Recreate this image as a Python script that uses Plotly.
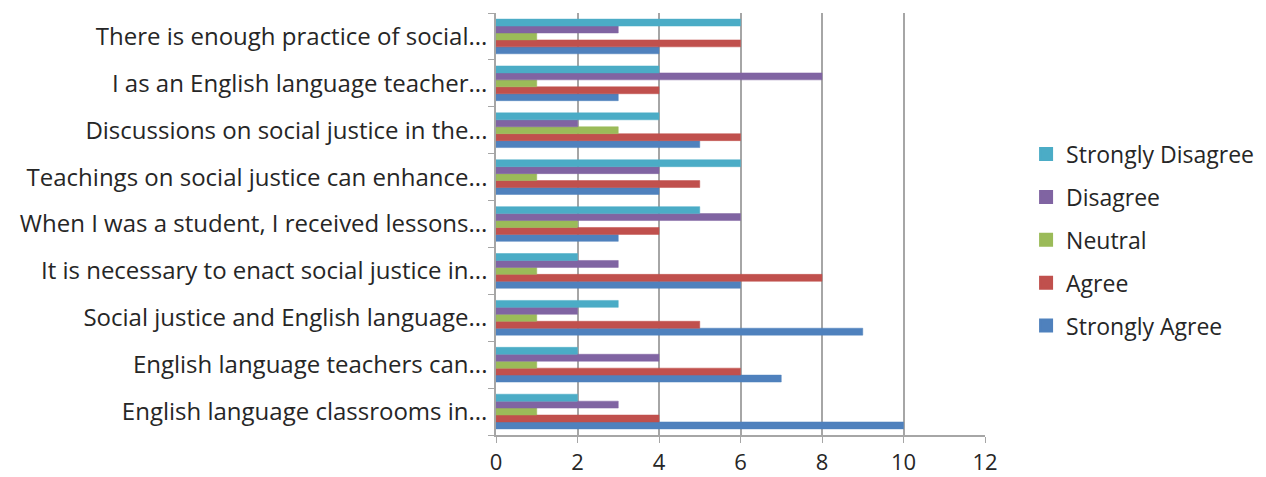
import plotly.graph_objects as go

# Survey statements, listed bottom to top as they appear on the axis
statements = [
    "English language classrooms in...",
    "English language teachers can...",
    "Social justice and English language...",
    "It is necessary to enact social justice in...",
    "When I was a student, I received lessons...",
    "Teachings on social justice can enhance...",
    "Discussions on social justice in the...",
    "I as an English language teacher...",
    "There is enough practice of social...",
]

strongly_agree    = [10, 7, 9, 6, 3, 4, 5, 3, 4]
agree             = [4, 6, 5, 8, 4, 5, 6, 4, 6]
neutral           = [1, 1, 1, 1, 2, 1, 3, 1, 1]
disagree          = [3, 4, 2, 3, 6, 4, 2, 8, 3]
strongly_disagree = [2, 2, 3, 2, 5, 6, 4, 4, 6]

# name, values, colour, legend position (1 = top)
series = [
    ("Strongly Agree", strongly_agree, "#4F81BD", 5),
    ("Agree", agree, "#C0504D", 4),
    ("Neutral", neutral, "#9BBB59", 3),
    ("Disagree", disagree, "#8064A2", 2),
    ("Strongly Disagree", strongly_disagree, "#4BACC6", 1),
]

font_family = "Open Sans, sans-serif"

fig = go.Figure()
for name, values, color, rank in series:
    fig.add_trace(go.Bar(
        y=statements, x=values, name=name, orientation="h",
        legendgroup=name, legendrank=rank,
        marker=dict(color=color, line=dict(color=color, width=0.5)),
    ))

fig.update_layout(
    width=1266, height=477,
    barmode="group", bargap=0.26, bargroupgap=0,
    plot_bgcolor="white", paper_bgcolor="white",
    margin=dict(l=496, r=281, t=13, b=42, autoexpand=False),
    font=dict(family=font_family, size=24, color="#262626"),
    legend=dict(
        traceorder="grouped", x=1.084, y=0.462, xanchor="left", yanchor="middle",
        font=dict(size=23), itemsizing="constant", itemwidth=30,
        tracegroupgap=10, bgcolor="rgba(0,0,0,0)",
    ),
    showlegend=True,
)

fig.update_xaxes(
    range=[0, 12], dtick=2, tick0=0, automargin=False,
    showgrid=True, gridcolor="#A6A6A6", gridwidth=1.5,
    showline=True, linecolor="#A6A6A6", linewidth=1.5,
    ticks="outside", ticklen=6, tickcolor="#A6A6A6",
    zeroline=False, tickfont=dict(size=22), ticklabelstandoff=1,
)
fig.update_yaxes(
    automargin=False,
    showline=True, linecolor="#A6A6A6", linewidth=1.5,
    ticks="outside", ticklen=6, tickcolor="#A6A6A6", tickson="boundaries",
    showgrid=False, ticklabelstandoff=2,
)

fig.write_html("out.html")
